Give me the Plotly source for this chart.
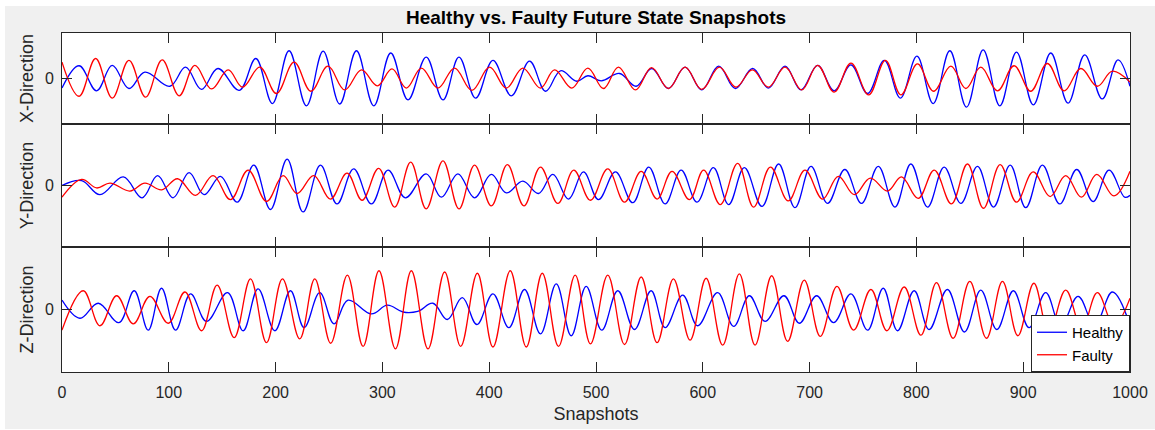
import plotly.graph_objects as go

# Snapshot index (0..1000) of every peak/trough, with its normalised amplitude.
# ---- X-Direction ----
x_healthy_t = [0, 16, 32.4, 47, 62.7, 77.6, 101, 115.7, 130.6, 146,
               166, 181.5, 197, 212.6, 228.9, 244.5, 260, 275.7, 291.9, 307.8,
               324, 341, 356.7, 371.7, 387.3, 403.5, 420.7, 437.8, 452.8, 466.8,
               482, 492.4, 504.9, 522, 537.6, 552.2, 567.8, 583.4, 599, 614.9,
               630.5, 646.7, 661.4, 677, 692, 707.5, 723, 738.7, 754.3, 770,
               785, 800.5, 815.7, 831.3, 846.9, 862.5, 878.1, 893.7, 909.5, 925.8,
               942, 957.6, 974, 988.8, 1000]
x_healthy_v = [-0.21, 0.28, -0.27, 0.29, -0.22, 0.14, -0.17, 0.25, -0.24, 0.22,
               -0.26, 0.44, -0.55, 0.61, -0.60, 0.60, -0.56, 0.61, -0.60, 0.56,
               -0.47, 0.47, -0.47, 0.47, -0.43, 0.40, -0.38, 0.38, -0.28, 0.17,
               -0.06, 0.06, -0.05, 0.11, -0.17, 0.22, -0.22, 0.25, -0.25, 0.27,
               -0.22, 0.22, -0.21, 0.27, -0.25, 0.29, -0.27, 0.30, -0.33, 0.40,
               -0.43, 0.49, -0.55, 0.61, -0.63, 0.63, -0.60, 0.58, -0.58, 0.56,
               -0.54, 0.52, -0.45, 0.41, -0.17]
x_faulty_t = [0, 16, 31.5, 47, 62.7, 78.3, 93.8, 109.7, 124.4, 140,
              155.6, 169, 185.2, 200.8, 217.3, 233, 249, 264.7, 280.4, 295.3,
              309, 322.4, 336.5, 352, 367.6, 383.8, 400.4, 416, 431.5, 448,
              461.2, 477.4, 492.4, 507, 521, 537, 552, 567.8, 583.4, 599,
              615.5, 631, 646.4, 661.4, 677, 692.6, 707.5, 723, 738.7, 755.3,
              771, 785.5, 801, 816, 832.3, 846.3, 860.3, 875.9, 891.5, 907,
              922.6, 938.3, 953.9, 969.4, 983.5, 1000]
x_faulty_v = [0.36, -0.39, 0.44, -0.43, 0.40, -0.41, 0.41, -0.38, 0.29, -0.23,
              0.19, -0.19, 0.25, -0.33, 0.36, -0.28, 0.27, -0.25, 0.19, -0.16,
              0.21, -0.21, 0.23, -0.21, 0.23, -0.26, 0.25, -0.21, 0.23, -0.21,
              0.19, -0.21, 0.23, -0.22, 0.25, -0.25, 0.24, -0.22, 0.25, -0.24,
              0.25, -0.19, 0.19, -0.19, 0.25, -0.25, 0.29, -0.30, 0.34, -0.36,
              0.40, -0.36, 0.32, -0.28, 0.27, -0.22, 0.25, -0.27, 0.28, -0.28,
              0.33, -0.27, 0.22, -0.17, 0.16, -0.08]

# ---- Y-Direction ----
y_healthy_t = [0, 18.4, 35.5, 57.4, 75, 89.5, 104, 119, 133, 148.4,
               164, 179.6, 195.2, 210.8, 225.7, 242, 257.5, 273.1, 289.7, 305.3,
               321.5, 341, 355.2, 370.7, 386.3, 402, 416, 431.5, 446.2, 459.6,
               474.3, 488.3, 502.3, 518.2, 534.4, 549.4, 564.7, 579.7, 594.6, 609.9,
               624.2, 638.9, 655.4, 671, 686.3, 701.3, 716.8, 733, 748.6, 764.3,
               779.9, 794.8, 810.4, 826, 841.6, 857.2, 872.2, 887.8, 902.4, 918,
               934.2, 950.1, 965.4, 980.4, 995, 1000]
y_healthy_v = [0.0, 0.08, -0.15, 0.14, -0.20, 0.16, -0.20, 0.21, -0.15, 0.15,
               -0.27, 0.33, -0.39, 0.43, -0.43, 0.33, -0.30, 0.27, -0.30, 0.25,
               -0.20, 0.19, -0.19, 0.19, -0.20, 0.18, -0.12, 0.07, -0.13, 0.18,
               -0.22, 0.22, -0.23, 0.22, -0.28, 0.30, -0.30, 0.25, -0.27, 0.29,
               -0.31, 0.29, -0.34, 0.35, -0.36, 0.31, -0.29, 0.26, -0.29, 0.31,
               -0.35, 0.35, -0.35, 0.30, -0.29, 0.31, -0.35, 0.33, -0.36, 0.33,
               -0.30, 0.26, -0.26, 0.25, -0.19, -0.16]
y_faulty_t = [0, 18.4, 32.4, 45, 63.6, 77.6, 93.3, 108.2, 125, 141.5,
              157.8, 174.3, 191.5, 207, 220.1, 235.7, 251.3, 266.9, 281, 296.5,
              311.5, 326.5, 341, 356.7, 371.7, 386.3, 402, 417, 432.5, 448,
              464.3, 479.2, 494.8, 511, 526.7, 542.3, 557.2, 571.2, 587.5, 600.8,
              616.4, 632.6, 647.6, 663.3, 680, 695.7, 712.2, 726.9, 741.9, 756.8,
              773, 786, 801.7, 816.7, 832.8, 847.8, 862.8, 878.4, 893.7, 909.3,
              925.2, 939.8, 954.5, 968.9, 985, 1000]
y_faulty_v = [-0.19, 0.10, -0.04, 0.04, -0.09, 0.04, -0.07, 0.11, -0.16, 0.16,
              -0.23, 0.25, -0.26, 0.16, -0.13, 0.16, -0.22, 0.20, -0.24, 0.28,
              -0.35, 0.38, -0.38, 0.40, -0.38, 0.33, -0.33, 0.34, -0.33, 0.30,
              -0.29, 0.25, -0.24, 0.27, -0.27, 0.23, -0.22, 0.23, -0.23, 0.25,
              -0.31, 0.36, -0.35, 0.30, -0.25, 0.25, -0.22, 0.15, -0.15, 0.12,
              -0.09, 0.14, -0.21, 0.25, -0.30, 0.35, -0.37, 0.34, -0.27, 0.22,
              -0.18, 0.16, -0.19, 0.18, -0.17, 0.23]

# ---- Z-Direction ----
z_healthy_t = [0, 16.8, 34, 53.3, 67.6, 80.7, 93.2, 106.3, 120.4, 135.3,
               155, 169.6, 183.6, 199.3, 213.9, 226.7, 241.3, 254.7, 267.8, 289.7,
               304.7, 319.3, 333, 347.3, 360.8, 374.8, 388.5, 403.5, 418.4, 433.1,
               448, 462.8, 476.8, 490.8, 505.4, 520.4, 536, 551.6, 564.7, 581.2,
               595.2, 613.9, 628.9, 643.6, 658.3, 676, 690.4, 706.6, 722.5, 738.7,
               754.3, 768.9, 782.3, 797.9, 811.9, 829, 845, 860.3, 875.3, 890.8,
               905.5, 921.1, 935.2, 951.4, 967, 983.5, 1000]
z_healthy_v = [0.15, -0.14, 0.10, -0.21, 0.30, -0.33, 0.34, -0.33, 0.25, -0.19,
               0.27, -0.34, 0.33, -0.34, 0.30, -0.29, 0.27, -0.23, 0.15, -0.07,
               0.07, -0.04, -0.03, 0.10, -0.16, 0.19, -0.24, 0.25, -0.29, 0.32,
               -0.39, 0.41, -0.42, 0.37, -0.33, 0.30, -0.32, 0.30, -0.29, 0.23,
               -0.26, 0.27, -0.27, 0.22, -0.19, 0.22, -0.22, 0.22, -0.21, 0.25,
               -0.33, 0.34, -0.34, 0.30, -0.32, 0.32, -0.36, 0.31, -0.32, 0.30,
               -0.29, 0.27, -0.26, 0.21, -0.25, 0.28, -0.25]
z_faulty_t = [0, 19.9, 35.5, 51.2, 66.7, 82.3, 99.5, 115.1, 130.7, 145.3,
              161.2, 176.5, 191.5, 206.4, 222.6, 236.7, 251.6, 267.2, 281.9, 296.8,
              312.2, 327.1, 342.7, 358.3, 373.3, 388.9, 403.5, 419.7, 434.7, 449.7,
              464.9, 480.5, 494.8, 511, 526.7, 542.3, 557.2, 572.5, 588.1, 603.1,
              618.6, 634.2, 648.9, 664.5, 679.4, 695, 710, 725.6, 741.2, 757.4,
              772.4, 788.6, 804.2, 818.8, 834.4, 850, 865.6, 880.6, 895, 910,
              924, 939.8, 955, 969.4, 985, 1000]
z_faulty_v = [-0.33, 0.30, -0.26, 0.22, -0.23, 0.21, -0.22, 0.28, -0.34, 0.39,
              -0.45, 0.49, -0.53, 0.49, -0.47, 0.49, -0.54, 0.55, -0.59, 0.62,
              -0.63, 0.62, -0.63, 0.60, -0.59, 0.58, -0.60, 0.62, -0.60, 0.58,
              -0.59, 0.55, -0.55, 0.55, -0.56, 0.52, -0.53, 0.49, -0.49, 0.50,
              -0.57, 0.57, -0.57, 0.54, -0.51, 0.47, -0.43, 0.37, -0.33, 0.32,
              -0.34, 0.36, -0.41, 0.43, -0.46, 0.45, -0.46, 0.45, -0.42, 0.42,
              -0.36, 0.31, -0.30, 0.27, -0.25, 0.18]

directions = ["X-Direction", "Y-Direction", "Z-Direction"]
x_ticks = list(range(0, 1001, 100))

panels = [
    (x_healthy_t, x_healthy_v, x_faulty_t, x_faulty_v),
    (y_healthy_t, y_healthy_v, y_faulty_t, y_faulty_v),
    (z_healthy_t, z_healthy_v, z_faulty_t, z_faulty_v),
]

AXIS_COLOR = "#262626"
FONT = "Liberation Sans, Arial, sans-serif"

fig = go.Figure()

for i, (ht, hv, ft, fv) in enumerate(panels):
    suffix = "" if i == 0 else str(i + 1)
    first_legend = (i == 2)
    fig.add_trace(go.Scatter(
        x=ht, y=hv, mode="lines", name="Healthy", legendgroup="healthy",
        showlegend=first_legend, line=dict(color="#0000ff", width=1.3,
                                           shape="spline", smoothing=1.1),
        xaxis="x" + suffix, yaxis="y" + suffix))
    fig.add_trace(go.Scatter(
        x=ft, y=fv, mode="lines", name="Faulty", legendgroup="faulty",
        showlegend=first_legend, line=dict(color="#ff0000", width=1.3,
                                           shape="spline", smoothing=1.1),
        xaxis="x" + suffix, yaxis="y" + suffix))

# Row heights (plot area is 339 px tall: 91 / 123 / 125)
total = 339.0
domains = [[248 / total, 1.0], [125 / total, 248 / total], [0.0, 125 / total]]

layout = dict(
    width=1155, height=430, autosize=False,
    margin=dict(l=62, r=25, t=33, b=58, pad=0, autoexpand=False),
    paper_bgcolor="#f0f0f0", plot_bgcolor="#ffffff",
    font=dict(family=FONT, size=16, color=AXIS_COLOR),
    title=dict(text="Healthy vs. Faulty Future State Snapshots",
               font=dict(family=FONT, size=19, color="#000000", weight="bold"),
               x=0.5, xref="paper", xanchor="center",
               y=1 - 17 / 430, yref="container", yanchor="middle"),
    showlegend=True,
    legend=dict(x=1, y=0, xref="paper", yref="paper", xanchor="right", yanchor="bottom",
                bgcolor="#ffffff", bordercolor=AXIS_COLOR, borderwidth=1,
                font=dict(family=FONT, size=15, color="#000000"),
                tracegroupgap=0, itemwidth=30),
)

for i in range(3):
    suffix = "" if i == 0 else str(i + 1)
    bottom = (i == 2)
    layout["xaxis" + suffix] = dict(
        domain=[0, 1], anchor="y" + suffix, range=[0, 1000], automargin=False,
        tickmode="array", tickvals=x_ticks, ticktext=[str(t) for t in x_ticks],
        ticks="inside", ticklen=10, tickwidth=1, tickcolor=AXIS_COLOR,
        showline=True, linecolor=AXIS_COLOR, linewidth=1, mirror="ticks",
        showgrid=False, zeroline=False, showticklabels=bottom,
        ticklabelstandoff=6,
        tickfont=dict(family=FONT, size=16, color=AXIS_COLOR),
        title=dict(text="Snapshots" if bottom else "",
                   font=dict(family=FONT, size=18, color=AXIS_COLOR), standoff=7),
        **({} if i == 0 else {"matches": "x"}),
    )
    layout["yaxis" + suffix] = dict(
        domain=domains[i], anchor="x" + suffix, range=[-1, 1], automargin=False,
        tickmode="array", tickvals=[0], ticktext=["0"],
        ticks="inside", ticklen=10, tickwidth=1, tickcolor=AXIS_COLOR,
        showline=True, linecolor=AXIS_COLOR, linewidth=1, mirror="ticks",
        showgrid=False, zeroline=False, ticklabelstandoff=4,
        tickfont=dict(family=FONT, size=16, color=AXIS_COLOR),
        title=dict(text=directions[i],
                   font=dict(family=FONT, size=18, color=AXIS_COLOR), standoff=6),
    )

fig.update_layout(**layout)

# Thin white frame on the left, top and bottom edges of the figure window
px2x = lambda px: (px - 62) / 1068.0
py2y = lambda py: (372 - py) / 339.0
for x0, x1, y0, y1 in [
    (px2x(0), px2x(5), py2y(430), py2y(0)),
    (px2x(0), px2x(1155), py2y(6), py2y(0)),
    (px2x(0), px2x(1155), py2y(430), py2y(429)),
]:
    fig.add_shape(type="rect", xref="paper", yref="paper",
                  x0=x0, x1=x1, y0=y0, y1=y1,
                  fillcolor="#ffffff", line=dict(width=0), layer="above")

fig.write_html("out.html")
